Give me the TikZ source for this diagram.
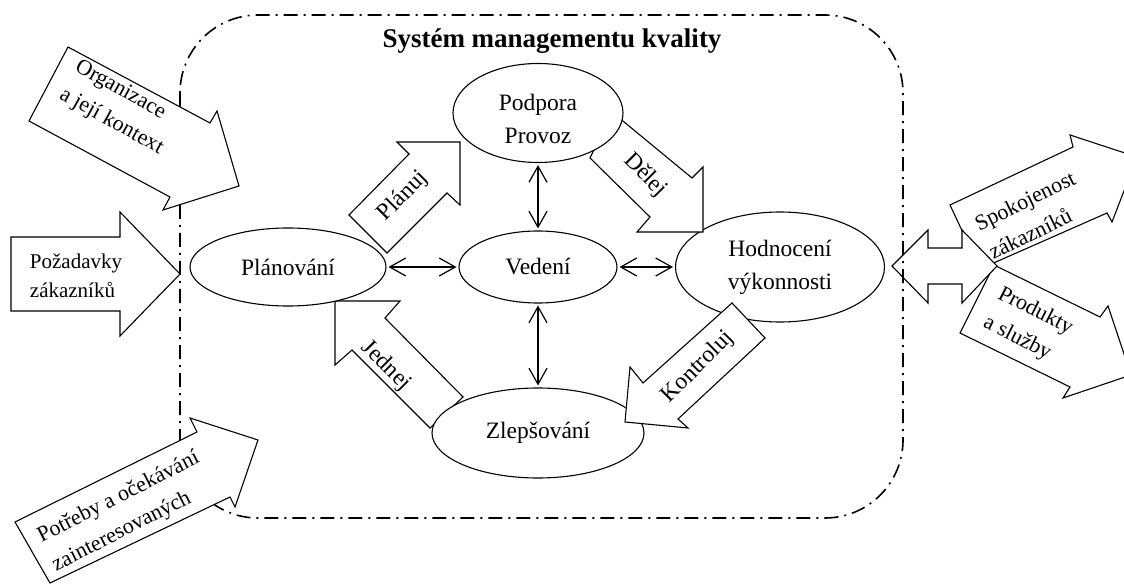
\documentclass[tikz,border=0pt]{standalone}
\usepackage{fontspec}
\setmainfont{Liberation Serif}
\usetikzlibrary{arrows.meta,shapes.geometric}

\tikzset{
  blk/.style={draw, fill=white, line width=1.1pt, line join=miter},
  elli/.style={ellipse, draw, fill=white, line width=1.1pt, inner sep=0pt,
    align=center, font=\fontsize{23.5}{33}\selectfont},
  lbl/.style={inner sep=0pt, align=left, font=\fontsize{22}{32}\selectfont},
  cyc/.style={lbl, font=\fontsize{23.5}{33}\selectfont},
  dbl/.style={{Straight Barb[length=16pt,width=18pt]}-{Straight Barb[length=16pt,width=18pt]},
    line width=1.2pt, shorten <=2pt, shorten >=2pt},
  frame/.style={line width=1.6pt, dash pattern=on 14pt off 6pt on 2pt off 6pt,
    rounded corners=78pt}
}

\begin{document}
\begin{tikzpicture}[x=1pt, y=-1pt]
    \useasboundingbox (0,0) rectangle (1124,585);

    % Outputs
    \draw[blk] (950,205) -- (1073,147) -- (1070,135) -- (1137,157) -- (1112,222)
        -- (1107,213) -- (980,269) -- cycle;
    \node[lbl, rotate=26] (spok) at (1032,215) {Spokojenost\\zákazníků};
    \draw[blk] (994,265) -- (1100,317) -- (1108,306) -- (1131,375) -- (1063,398)
        -- (1070,387) -- (960,333) -- cycle;
    \node[lbl, rotate=-27] (prod) at (1028,326) {Produkty\\a služby};
    \draw[blk] (892,266) -- (928,230) -- (928,248) -- (962,248) -- (962,230) -- (997,266)
        -- (962,303) -- (962,284) -- (928,284) -- (928,303) -- cycle;

    % System boundary
    \draw[frame] (180,15) rectangle (903,518);
    \node[font=\fontsize{27}{30}\selectfont\bfseries] (title) at (552,41) {Systém managementu kvality};

    % Inputs
    \draw[blk] (68,47) -- (210,123) -- (217,111) -- (239,186) -- (163,210) -- (170,197)
        -- (29,121) -- cycle;
    \node[lbl, rotate=-29] (org) at (119,108) {Organizace\\a její kontext};
    \draw[blk] (11,237) -- (120,237) -- (120,212) -- (180,274) -- (120,336) -- (120,311)
        -- (11,311) -- cycle;
    \node[lbl, font=\fontsize{21}{29}\selectfont] (poz) at (76,276) {Požadavky\\zákazníků};
    \draw[blk] (15,522) -- (197,432) -- (190,418) -- (258,440) -- (235,507) -- (230,497)
        -- (50,583) -- cycle;
    \node[lbl, rotate=27] (potr) at (126,512) {Potřeby a očekávání\\zainteresovaných};

    % Cycle arrows
    \draw[blk] (335,301) -- (400,301) -- (385,318) -- (463,397) -- (430,428) -- (352,350)
        -- (335,365) -- cycle;
    \node[cyc, rotate=-45] (jed) at (386,366) {Jednej};
    \draw[blk] (460,142) -- (397,142) -- (409,154) -- (349,215) -- (387,253) -- (447,193)
        -- (460,205) -- cycle;
    \node[cyc, rotate=45] (plj) at (403,196) {Plánuj};

    % Processes
    \node[elli, minimum width=196pt, minimum height=78pt] (plan) at (288,267) {Plánování};
    \node[elli, minimum width=158pt, minimum height=72pt] (ved) at (538,267) {Vedení};
    \node[elli, minimum width=212pt, minimum height=90pt] (zlep) at (538,433) {Zlepšování};
    \node[elli, minimum width=209pt, minimum height=110pt] (hod) at (780,267) {Hodnocení\\výkonnosti};

    \draw[blk] (590,158) -- (612,112) -- (692,178) -- (703,167) -- (703,232) -- (637,232)
        -- (650,217) -- cycle;
    \node[cyc, rotate=-45] (del) at (645,175) {Dělej};

    \node[elli, minimum width=170pt, minimum height=99pt,
        label={[elli, draw=none, fill=none, minimum size=0pt, yshift=-6pt]center:Podpora\\Provoz}] (pod) at (538,113) {};

    \draw[blk] (625,422) -- (630,367) -- (643,383) -- (732,303) -- (765,338) -- (678,419)
        -- (688,428) -- cycle;
    \node[cyc, rotate=45] (kon) at (698,367) {Kontroluj};

    % Links
    \draw[dbl] (pod) -- (ved);
    \draw[dbl] (ved) -- (zlep);
    \draw[dbl] (plan) -- (ved);
    \draw[dbl] (ved) -- (hod);
\end{tikzpicture}
\end{document}
